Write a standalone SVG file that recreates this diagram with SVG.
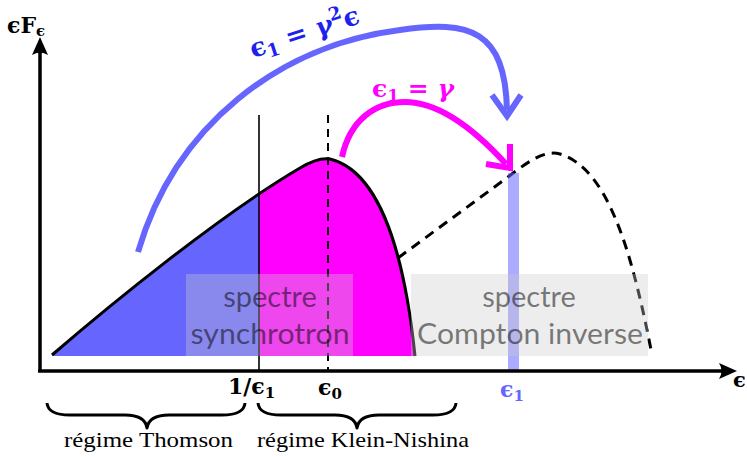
<svg xmlns="http://www.w3.org/2000/svg" width="747" height="457" viewBox="0 0 747 457">
<style>
.math{font-family:"DejaVu Serif","Liberation Serif",serif;font-weight:bold}
.reg{font-family:"Liberation Serif","DejaVu Serif",serif;font-size:21px;fill:#000}
.box{fill:#cccccc;fill-opacity:0.35}
.btxt{font-family:Lato,"Open Sans",sans-serif;font-size:29px;fill:#000;fill-opacity:0.5;text-anchor:middle}
.ax{stroke:#000;stroke-width:3.5;fill:none}
.brace{stroke:#000;stroke-width:3;fill:none;stroke-linejoin:round}
</style>
<defs>
<clipPath id="left"><rect x="0" y="0" width="259" height="457"/></clipPath>
<clipPath id="right"><rect x="259" y="0" width="488" height="457"/></clipPath>
<path id="spec" d="M52,356 C110,305 220,215 300,168 Q318,157 330,159 C375,170 403,240 415,356 Z"/>
</defs>

<g id="spectrum-fill">
<use href="#spec" fill="#6666ff" clip-path="url(#left)"/>
<use href="#spec" fill="#ff00ff" clip-path="url(#right)"/>
</g>
<g id="spectrum-curve">
<path d="M52,355 C110,305 220,215 300,168 Q318,157 330,159 C375,170 403,240 415,356" fill="none" stroke="#000" stroke-width="3"/>
</g>
<g id="compton-curve">
<path d="M398,258 L508,177 C530,160 545,150 560,154 C605,168 630,240 652,355" fill="none" stroke="#000" stroke-width="3" stroke-dasharray="10,7"/>
</g>

<g id="markers">
<line x1="259" y1="115" x2="259" y2="371" stroke="#000" stroke-width="1.6"/>
<line x1="328" y1="115" x2="328" y2="371" stroke="#000" stroke-width="2" stroke-dasharray="8,6"/>
<rect x="508" y="173" width="11" height="197" fill="#6666ff" fill-opacity="0.55"/>
</g>

<g id="box-synchrotron">
<rect class="box" x="186" y="274" width="167" height="82"/>
<text class="btxt" x="270" y="307">spectre</text>
<text class="btxt" x="270" y="344" textLength="159" lengthAdjust="spacingAndGlyphs">synchrotron</text>
</g>
<g id="box-compton">
<rect class="box" x="411" y="274" width="237" height="82"/>
<text class="btxt" x="529" y="307">spectre</text>
<text class="btxt" x="530" y="344" textLength="226" lengthAdjust="spacingAndGlyphs">Compton inverse</text>
</g>

<g id="axes">
<line class="ax" x1="40" y1="372" x2="40" y2="48"/>
<path d="M40,37 L48,55 Q40,50 32,55 Z" fill="#000"/>
<line class="ax" x1="38" y1="371" x2="726" y2="371"/>
<path d="M737,371 L719,363 Q724,371 719,379 Z" fill="#000"/>
<text class="math" x="7" y="33" font-size="22">ϵF<tspan font-size="15" dy="3">ϵ</tspan></text>
<text class="math" x="733" y="387" font-size="21">ϵ</text>
</g>

<g id="ticks">
<text class="math" x="228" y="394" font-size="22">1/ϵ<tspan font-size="15" dy="4">1</tspan></text>
<text class="math" x="318" y="395" font-size="22">ϵ<tspan font-size="15" dy="4">0</tspan></text>
<text class="math" x="500" y="397" font-size="22" fill="#6666ff">ϵ<tspan font-size="15" dy="4">1</tspan></text>
</g>

<g id="connectors">
<g id="arrow-blue" stroke="#6666ff" stroke-width="6" fill="none" stroke-linecap="butt" stroke-linejoin="miter">
<path d="M138,252 C175,125 280,45 400,30 C470,20 505,30 507,110"/>
<path d="M492,95 L507,116 L521,95"/>
</g>
<g id="arrow-magenta" stroke="#ff00ff" stroke-width="6" fill="none">
<path d="M342,157 C350,120 375,102 405,102 C440,102 475,130 506,164"/>
<path d="M486,164 L510,168 L510,144"/>
</g>
</g>

<g id="labels">
<text class="math" font-size="26" fill="#1f1fee" transform="translate(253,58) rotate(-18)">ϵ<tspan font-size="18" dy="5">1</tspan><tspan dy="-5"> = </tspan><tspan font-style="italic">γ</tspan><tspan font-size="18" dy="-11">2</tspan><tspan dy="11">ϵ</tspan></text>
<text class="math" x="372" y="97" font-size="25" fill="#ff00ff">ϵ<tspan font-size="17" dy="4">1</tspan><tspan dy="-4"> = </tspan><tspan font-style="italic">γ</tspan></text>
</g>

<g id="braces">
<path class="brace" d="M47,403 Q48,415 70,415 L125,415 Q145,415 147,428 Q149,415 169,415 L222,415 Q244,415 245,403"/>
<path class="brace" d="M258,403 Q259,415 281,415 L335,415 Q355,415 357,428 Q359,415 379,415 L433,415 Q455,415 456,403"/>
<text class="reg" x="64" y="447" textLength="169" lengthAdjust="spacingAndGlyphs">régime Thomson</text>
<text class="reg" x="257" y="447" textLength="212" lengthAdjust="spacingAndGlyphs">régime Klein-Nishina</text>
</g>
</svg>
